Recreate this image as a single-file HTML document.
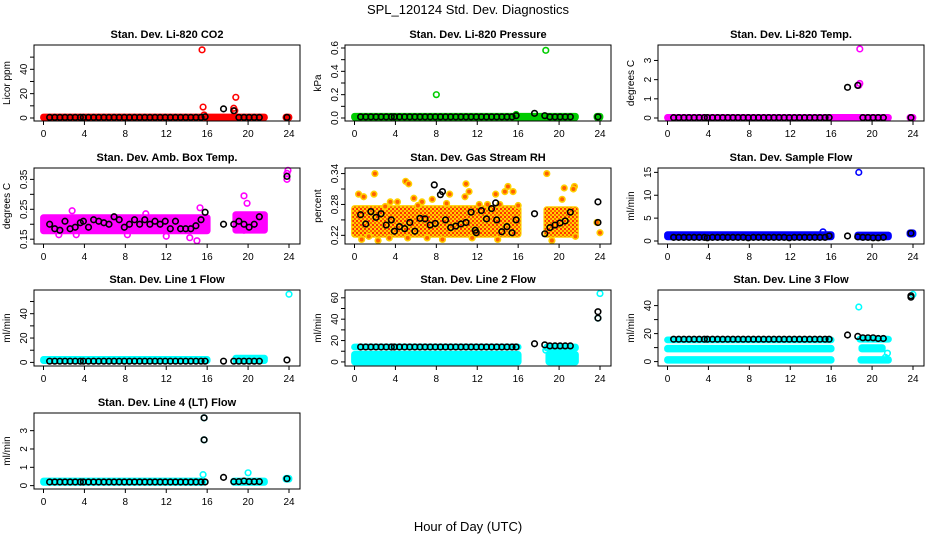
<!DOCTYPE html>
<html><head><meta charset="utf-8">
<style>
html,body{margin:0;padding:0;background:#fff;}
svg{display:block;font-family:"Liberation Sans",Arial,sans-serif;}
</style></head>
<body>
<svg id="chart" width="936" height="540" viewBox="0 0 936 540">
<defs>
<pattern id="rhpat" width="4" height="4" patternUnits="userSpaceOnUse">
<rect width="4" height="4" fill="#ffd000"/>
<rect x="0" y="0" width="2" height="2" fill="#ff3000"/>
<rect x="2" y="2" width="2" height="2" fill="#ff6000"/>
</pattern>
</defs>
<rect width="936" height="540" fill="#fff"/>
<text x="468" y="14" text-anchor="middle" font-size="13">SPL_120124  Std. Dev. Diagnostics</text>
<text x="468" y="531" text-anchor="middle" font-size="13">Hour of Day (UTC)</text>
</svg>
<script>
const xTicks = [0,4,8,12,16,20,24];
const meanX = [0.6,1.1,1.6,2.1,2.6,3.1,3.6,3.9,4.4,4.9,5.4,5.9,6.4,6.9,7.4,7.9,8.4,8.9,9.4,9.9,10.4,10.9,11.4,11.9,12.4,12.9,13.4,13.9,14.4,14.9,15.4,15.8,17.6,18.6,19.1,19.6,20.1,20.6,21.1,23.8];

const co2Means = [0.5,0.5,0.5,0.5,0.5,0.5,0.5,0.5,0.5,0.5,0.5,0.5,0.5,0.5,0.5,0.5,0.5,0.5,0.5,0.5,0.5,0.5,0.5,0.5,0.5,0.5,0.5,0.5,0.5,0.5,0.5,1,7.5,6,0.5,0.5,0.5,0.5,0.5,0.5];
const presMeans = [0.01,0.01,0.01,0.01,0.01,0.01,0.01,0.01,0.01,0.01,0.01,0.01,0.01,0.01,0.01,0.01,0.01,0.01,0.01,0.01,0.01,0.01,0.01,0.01,0.01,0.01,0.01,0.01,0.01,0.01,0.01,0.02,0.04,0.02,0.01,0.01,0.01,0.01,0.01,0.01];
const tempMeans = [0.02,0.02,0.02,0.02,0.02,0.02,0.02,0.02,0.02,0.02,0.02,0.02,0.02,0.02,0.02,0.02,0.02,0.02,0.02,0.02,0.02,0.02,0.02,0.02,0.02,0.02,0.02,0.02,0.02,0.02,0.02,0.02,1.6,1.7,0.02,0.02,0.02,0.02,0.02,0.02];
const ambMeans = [0.2,0.185,0.18,0.21,0.185,0.19,0.205,0.21,0.19,0.215,0.21,0.205,0.2,0.225,0.215,0.19,0.2,0.215,0.2,0.215,0.2,0.21,0.2,0.21,0.185,0.21,0.185,0.185,0.185,0.195,0.215,0.24,0.2,0.2,0.21,0.2,0.19,0.2,0.225,0.36];
const rhMeans = [0.26,0.242,0.266,0.255,0.262,0.24,0.25,0.228,0.237,0.233,0.245,0.228,0.253,0.252,0.24,0.243,0.299,0.25,0.235,0.238,0.242,0.245,0.265,0.225,0.268,0.252,0.272,0.25,0.227,0.237,0.225,0.25,0.262,0.223,0.235,0.24,0.244,0.248,0.265,0.285];
const sampleMeans = [0.8,0.8,0.8,0.8,0.8,0.8,0.8,0.7,0.8,0.8,0.8,0.8,0.8,0.8,0.8,0.7,0.8,0.8,0.8,0.8,0.8,0.8,0.8,0.7,0.8,0.8,0.8,0.8,0.8,0.8,0.8,1.1,1.1,0.9,0.8,0.8,0.7,0.7,0.8,1.7];
const line1Means = [1,1,1,1,1,1,1,1,1,1,1,1,1,1,1,1,1,1,1,1,1,1,1,1,1,1,1,1,1,1,1,1,1,1,1,1,1,1,1,2];
const line2Means = [14,14,14,14,14,14,14,14,14,14,14,14,14,14,14,14,14,14,14,14,14,14,14,14,14,14,14,14,14,14,14,14,17,16,15,15,15,15,15,47];
const line3Means = [16,16,16,16,16,16,16,16,16,16,16,16,16,16,16,16,16,16,16,16,16,16,16,16,16,16,16,16,16,16,16,16,19,18,17,17,17,16.5,16.5,47];
const line4Means = [0.2,0.2,0.2,0.2,0.2,0.2,0.2,0.2,0.2,0.2,0.2,0.2,0.2,0.2,0.2,0.2,0.2,0.2,0.2,0.2,0.2,0.2,0.2,0.2,0.2,0.2,0.2,0.2,0.2,0.2,0.2,0.2,0.45,0.22,0.22,0.25,0.22,0.22,0.22,0.38];

// bands: [xStart, xEnd, yLow, yHigh]
const co2Bands = [[0,21.6,0.3,0.8],[23.7,24,0.3,0.8]];
const presBands = [[0,21.6,0.005,0.015],[23.7,24,0.005,0.015]];
const tempBands = [[0,21.6,0.01,0.03],[23.7,24,0.01,0.03]];
const ambBands = [[0,16,0.178,0.222],[18.8,21.6,0.18,0.232]];
const rhBands = [[0,16,0.222,0.272],[18.8,21.6,0.222,0.27]];
const sampleBands = [[0,16,0.9,1.4],[18.6,21.6,0.9,1.3],[23.7,24,1.5,1.8]];
const line1Bands = [[0,16,1.5,2.5],[18.8,21.6,1.5,3.5]];
const line2Bands = [[0,16,0,7],[19,21.6,0,7],[0,16,14,14],[18.8,21.6,13,14]];
const line3Bands = [[0,16,1,1.5],[0,16,9,9.5],[0,16,15.5,15.5],[18.9,21.6,1,1.5],[19,21,9,10],[18.8,21.6,16,16]];
const line4Bands = [[0,15.6,0.18,0.25],[18.6,21.6,0.18,0.25],[23.7,24,0.35,0.4]];

// individual points [x, y]
const co2Pts = [[15.5,56],[15.6,9],[15.7,2.5],[18.6,8],[18.8,17],[18.7,6]];
const presPts = [[8,0.2],[18.7,0.58],[15.8,0.03]];
const tempPts = [[18.8,3.6],[18.8,1.8],[18.7,1.7]];
const ambPts = [[2.8,0.245],[3.2,0.165],[1.5,0.165],[15,0.145],[14.3,0.155],[15.3,0.255],[19.6,0.295],[19.9,0.27],[19.6,0.18],[23.9,0.38],[23.8,0.37],[23.8,0.35],[8.2,0.165],[10,0.235],[12,0.16]];
const rhPts = [[0.4,0.3],[0.9,0.295],[2,0.34],[1.9,0.3],[5,0.325],[5.3,0.32],[3.5,0.285],[4.2,0.285],[5.8,0.292],[6.6,0.285],[7.6,0.29],[9.3,0.3],[10.9,0.32],[10.8,0.295],[11.2,0.305],[12.2,0.28],[13.8,0.3],[14.2,0.28],[15,0.315],[14.7,0.305],[15.5,0.305],[18.8,0.34],[20.5,0.312],[21.5,0.315],[21.4,0.31],[20.3,0.29],[0.7,0.212],[1.4,0.218],[2.3,0.21],[3.4,0.215],[5.2,0.215],[7.1,0.215],[8.6,0.212],[11.5,0.215],[14,0.212],[19.3,0.21],[21.6,0.218],[24,0.225],[23.7,0.245],[3,0.276],[6.2,0.278],[9,0.282],[13,0.28],[16,0.278]];
const rhExtraMeans = [[7.8,0.318],[8.6,0.305],[11.8,0.23],[13.8,0.283],[23.8,0.245]];
const samplePts = [[18.7,15],[15.2,2]];
const line1Pts = [[24,56]];
const line2Pts = [[24,64],[23.8,41],[18.7,11]];
const line3Pts = [[18.7,39],[21.5,6],[21.3,3],[24,48]];
const line4Pts = [[15.7,3.7],[15.7,2.5],[15.6,0.6],[20,0.7]];

const panels = [
 {name:"co2",title:"Stan. Dev. Li-820 CO2",ylab:"Licor ppm",col:0,row:0,lo:0,hi:57.5,ticks:[0,10,20,30,40,50],labels:[0,20,40],color:"#ff0000",fill:"#ff0000",bands:co2Bands,pts:co2Pts,means:co2Means,extra:[]},
 {name:"pressure",title:"Stan. Dev. Li-820 Pressure",ylab:"kPa",col:1,row:0,lo:0,hi:0.6,ticks:[0,0.1,0.2,0.3,0.4,0.5,0.6],labels:["0.0","0.2","0.4","0.6"],color:"#00cc00",fill:"#00cc00",bands:presBands,pts:presPts,means:presMeans,extra:[]},
 {name:"temp",title:"Stan. Dev. Li-820 Temp.",ylab:"degrees C",col:2,row:0,lo:0,hi:3.65,ticks:[0,1,2,3],labels:[0,1,2,3],color:"#ff00ff",fill:"#ff00ff",bands:tempBands,pts:tempPts,means:tempMeans,extra:[]},
 {name:"amb-temp",title:"Stan. Dev. Amb. Box Temp.",ylab:"degrees C",col:0,row:1,lo:0.144,hi:0.378,ticks:[0.15,0.2,0.25,0.3,0.35],labels:["0.15","0.25","0.35"],color:"#ff00ff",fill:"#ff00ff",bands:ambBands,pts:ambPts,means:ambMeans,extra:[]},
 {name:"rh",title:"Stan. Dev. Gas Stream RH",ylab:"percent",col:1,row:1,lo:0.209,hi:0.345,ticks:[0.22,0.25,0.28,0.31,0.34],labels:["0.22","0.28","0.34"],color:"#ffd000",fill:"url(#rhpat)",ptFill:"#ff6000",bands:rhBands,pts:rhPts,means:rhMeans,extra:rhExtraMeans},
 {name:"sample-flow",title:"Stan. Dev. Sample Flow",ylab:"ml/min",col:2,row:1,lo:0,hi:15.3,ticks:[0,5,10,15],labels:[0,5,10,15],color:"#0000ff",fill:"#0000ff",bands:sampleBands,pts:samplePts,means:sampleMeans,extra:[]},
 {name:"line1",title:"Stan. Dev. Line 1 Flow",ylab:"ml/min",col:0,row:2,lo:-0.5,hi:57,ticks:[0,10,20,30,40,50],labels:[0,20,40],color:"#00ffff",fill:"#00ffff",bands:line1Bands,pts:line1Pts,means:line1Means,extra:[]},
 {name:"line2",title:"Stan. Dev. Line 2 Flow",ylab:"ml/min",col:1,row:2,lo:-1,hi:64.5,ticks:[0,10,20,30,40,50,60],labels:[0,20,40,60],color:"#00ffff",fill:"#00ffff",bands:line2Bands,pts:line2Pts,means:line2Means,extra:[[23.8,41]]},
 {name:"line3",title:"Stan. Dev. Line 3 Flow",ylab:"ml/min",col:2,row:2,lo:-1,hi:49,ticks:[0,10,20,30,40],labels:[0,20,40],color:"#00ffff",fill:"#00ffff",bands:line3Bands,pts:line3Pts,means:line3Means,extra:[[23.8,46]]},
 {name:"line4",title:"Stan. Dev. Line 4 (LT) Flow",ylab:"ml/min",col:0,row:3,lo:-0.02,hi:3.8,ticks:[0,1,2,3],labels:[0,1,2,3],color:"#00ffff",fill:"#00ffff",bands:line4Bands,pts:line4Pts,means:line4Means,extra:[[15.7,3.7],[15.7,2.5]]}
];

const NS = "http://www.w3.org/2000/svg";
const svg = document.getElementById("chart");
const colLeft = [34,345,658];
const rowTop = [45,168,290,413];
const BW = 266, BH = 76, R = 2.8;

function mk(tag, attrs, parent){
  const e = document.createElementNS(NS, tag);
  for (const k in attrs) e.setAttribute(k, attrs[k]);
  parent.appendChild(e);
  return e;
}

panels.forEach(p => {
  const L = colLeft[p.col], T = rowTop[p.row];
  const xs = v => L + 9.5 + v * (245.5/24);
  const ys = v => (T + BH - 3) - (v - p.lo) / (p.hi - p.lo) * (BH - 6);
  const g = mk("g", {}, svg);
  
  

  const title = mk("text", {x: L + BW/2, y: T - 7, "text-anchor":"middle", "font-size":"11", "font-weight":"bold"}, g);
  title.textContent = p.title;
  
  

  p.bands.forEach(b => {
    const x0 = xs(b[0]) - R, x1 = xs(b[1]) + R;
    const y0 = ys(b[3]) - R, y1 = ys(b[2]) + R;
    const r = mk("rect", {x:x0, y:y0, width:x1-x0, height:Math.max(y1-y0, 2*R), rx:R, fill:p.fill, stroke:p.color, "stroke-width":1.2}, g);
    
    
  });
  p.pts.forEach(pt => {
    const c = mk("circle", {cx:xs(pt[0]), cy:ys(pt[1]), r:R, fill:p.ptFill || "none", stroke:p.color, "stroke-width":1.6}, g);
    
    
  });
  p.means.forEach((v, i) => {
    const c = mk("circle", {cx:xs(meanX[i]), cy:ys(v), r:R, fill:"none", stroke:"#000", "stroke-width":1.6}, g);
    
    
  });
  p.extra.forEach(pt => {
    const c = mk("circle", {cx:xs(pt[0]), cy:ys(pt[1]), r:R, fill:"none", stroke:"#000", "stroke-width":1.6}, g);
    
    
  });

  const box = mk("rect", {x:L, y:T, width:BW, height:BH, fill:"none", stroke:"#000", "stroke-width":1}, g);
  
  

  const xa = mk("g", {}, g);
  
  
  mk("line", {x1:xs(0), x2:xs(24), y1:T+BH, y2:T+BH, stroke:"#000"}, xa);
  xTicks.forEach(t => {
    mk("line", {x1:xs(t), x2:xs(t), y1:T+BH, y2:T+BH+4, stroke:"#000"}, xa);
    const tx = mk("text", {x:xs(t), y:T+BH+16, "text-anchor":"middle", "font-size":"10"}, xa);
    tx.textContent = t;
  });
  const ya = mk("g", {}, g);
  
  
  mk("line", {x1:L, x2:L, y1:ys(p.ticks[0]), y2:ys(p.ticks[p.ticks.length-1]), stroke:"#000"}, ya);
  p.ticks.forEach(t => {
    mk("line", {x1:L-4, x2:L, y1:ys(t), y2:ys(t), stroke:"#000"}, ya);
  });
  p.labels.forEach(l => {
    const y = ys(parseFloat(l));
    const tx = mk("text", {x:L-7, y:y, "text-anchor":"middle", "font-size":"10", transform:`rotate(-90 ${L-7} ${y})`}, ya);
    tx.textContent = l;
  });
  const yl = mk("text", {x:L-24, y:T+BH/2, "text-anchor":"middle", "font-size":"10", transform:`rotate(-90 ${L-24} ${T+BH/2})`}, g);
  yl.textContent = p.ylab;
  
  
});
</script>
</body></html>
